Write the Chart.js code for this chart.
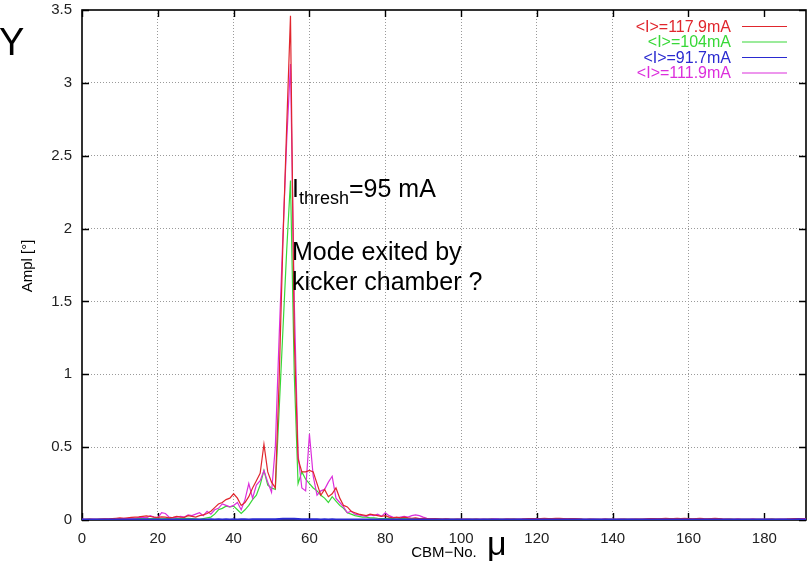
<!DOCTYPE html>
<html>
<head>
<meta charset="utf-8">
<script src="https://cdn.jsdelivr.net/npm/chart.js@4.4.1/dist/chart.umd.min.js"></script>
<style>
  html, body { margin: 0; padding: 0; background: #fff; }
  #wrap { width: 807px; height: 571px; }
</style>
</head>
<body>
<div id="wrap"><canvas id="myChart" width="807" height="571"></canvas></div>
<script>
// bunch number of the first value in each series
const firstBunch = 0;

const seriesLabels = ["<I>=117.9mA", "<I>=104mA", "<I>=91.7mA", "<I>=111.9mA"];
const seriesColors = ["#e0262d", "#38d838", "#2a2ad0", "#dc2edc"];
const seriesWidths = [1.2, 1.2, 2, 1.2];

const xTicks = [0, 20, 40, 60, 80, 100, 120, 140, 160, 180];
const yTicks = [0, 0.5, 1, 1.5, 2, 2.5, 3, 3.5];

const ampl118 = [
  0.005, 0.004, 0.006, 0.005, 0.004, 0.006, 0.008, 0.007, 0.010, 0.012,
  0.014, 0.012, 0.015, 0.018, 0.020, 0.022, 0.025, 0.028, 0.024, 0.020,
  0.018, 0.022, 0.020, 0.015, 0.018, 0.025, 0.020, 0.018, 0.030, 0.025,
  0.020, 0.030, 0.035, 0.045, 0.060, 0.085, 0.110, 0.120, 0.140, 0.150,
  0.180, 0.150, 0.100, 0.120, 0.160, 0.220, 0.270, 0.320, 0.520, 0.330,
  0.260, 0.220, 0.950, 1.900, 2.700, 3.460, 1.250, 0.420, 0.330, 0.330,
  0.340, 0.330, 0.250, 0.170, 0.210, 0.160, 0.180, 0.220, 0.150, 0.100,
  0.090, 0.060, 0.050, 0.040, 0.035, 0.030, 0.040, 0.035, 0.030, 0.025,
  0.030, 0.020, 0.015, 0.020, 0.015, 0.020, 0.015, 0.012, 0.015, 0.010,
  0.012, 0.010, 0.008, 0.010, 0.008, 0.006, 0.008, 0.006, 0.005, 0.006,
  0.005, 0.006, 0.004, 0.005, 0.006, 0.005, 0.004, 0.005, 0.006, 0.005,
  0.004, 0.005, 0.006, 0.007, 0.006, 0.005, 0.006, 0.008, 0.010, 0.009,
  0.008, 0.010, 0.012, 0.010, 0.009, 0.011, 0.012, 0.010, 0.008, 0.009,
  0.010, 0.008, 0.006, 0.005, 0.006, 0.005, 0.004, 0.005, 0.006, 0.005,
  0.004, 0.005, 0.004, 0.006, 0.005, 0.004, 0.006, 0.007, 0.006, 0.008,
  0.009, 0.010, 0.008, 0.010, 0.012, 0.010, 0.009, 0.011, 0.010, 0.012,
  0.010, 0.008, 0.010, 0.011, 0.009, 0.008, 0.010, 0.012, 0.010, 0.008,
  0.007, 0.006, 0.005, 0.006, 0.005, 0.004, 0.005, 0.006, 0.005, 0.004,
  0.005, 0.004, 0.006, 0.005, 0.004, 0.005, 0.006, 0.008, 0.010, 0.009,
  0.008, 0.007,
];

const ampl104 = [
  0.003, 0.003, 0.004, 0.003, 0.004, 0.005, 0.004, 0.005, 0.006, 0.005,
  0.006, 0.007, 0.006, 0.008, 0.010, 0.009, 0.010, 0.012, 0.010, 0.009,
  0.010, 0.008, 0.010, 0.009, 0.008, 0.010, 0.012, 0.010, 0.012, 0.010,
  0.008, 0.005, 0.010, 0.015, 0.020, 0.040, 0.070, 0.080, 0.095, 0.090,
  0.095, 0.070, 0.045, 0.070, 0.100, 0.140, 0.170, 0.240, 0.340, 0.240,
  0.220, 0.210, 0.750, 1.300, 1.850, 2.330, 1.000, 0.250, 0.330, 0.280,
  0.250, 0.220, 0.200, 0.170, 0.150, 0.120, 0.160, 0.130, 0.100, 0.080,
  0.050, 0.040, 0.030, 0.025, 0.020, 0.020, 0.015, 0.015, 0.012, 0.010,
  0.010, 0.012, 0.010, 0.008, 0.010, 0.009, 0.008, 0.007, 0.008, 0.006,
  0.006, 0.005, 0.006, 0.005, 0.004, 0.005, 0.004, 0.005, 0.004, 0.004,
  0.004, 0.003, 0.004, 0.005, 0.004, 0.003, 0.004, 0.005, 0.004, 0.003,
  0.004, 0.005, 0.004, 0.005, 0.006, 0.005, 0.004, 0.005, 0.006, 0.005,
  0.006, 0.007, 0.006, 0.005, 0.006, 0.007, 0.006, 0.005, 0.004, 0.005,
  0.004, 0.005, 0.004, 0.003, 0.004, 0.005, 0.004, 0.003, 0.004, 0.005,
  0.004, 0.003, 0.004, 0.005, 0.004, 0.005, 0.004, 0.003, 0.004, 0.005,
  0.006, 0.005, 0.006, 0.007, 0.006, 0.005, 0.006, 0.007, 0.006, 0.005,
  0.006, 0.005, 0.004, 0.005, 0.006, 0.005, 0.004, 0.005, 0.004, 0.003,
  0.004, 0.005, 0.004, 0.003, 0.004, 0.005, 0.004, 0.003, 0.004, 0.005,
  0.004, 0.005, 0.006, 0.005, 0.004, 0.005, 0.006, 0.005, 0.006, 0.007,
  0.006, 0.005,
];

const ampl92 = [
  0.003, 0.003, 0.004, 0.003, 0.003, 0.004, 0.003, 0.003, 0.004, 0.003,
  0.003, 0.004, 0.003, 0.003, 0.004, 0.004, 0.003, 0.003, 0.004, 0.003,
  0.003, 0.004, 0.003, 0.003, 0.004, 0.003, 0.003, 0.004, 0.004, 0.003,
  0.004, 0.003, 0.004, 0.004, 0.005, 0.004, 0.005, 0.004, 0.005, 0.004,
  0.005, 0.004, 0.005, 0.005, 0.004, 0.005, 0.005, 0.006, 0.005, 0.006,
  0.005, 0.006, 0.007, 0.008, 0.008, 0.009, 0.008, 0.007, 0.006, 0.005,
  0.006, 0.005, 0.005, 0.004, 0.005, 0.004, 0.005, 0.004, 0.004, 0.003,
  0.004, 0.003, 0.004, 0.003, 0.003, 0.004, 0.003, 0.003, 0.004, 0.003,
  0.003, 0.004, 0.003, 0.003, 0.004, 0.003, 0.003, 0.004, 0.003, 0.003,
  0.004, 0.003, 0.003, 0.004, 0.003, 0.003, 0.004, 0.003, 0.003, 0.004,
  0.003, 0.003, 0.004, 0.003, 0.003, 0.004, 0.003, 0.003, 0.004, 0.003,
  0.003, 0.004, 0.003, 0.003, 0.004, 0.003, 0.003, 0.004, 0.003, 0.003,
  0.004, 0.003, 0.003, 0.004, 0.003, 0.003, 0.004, 0.003, 0.003, 0.004,
  0.003, 0.003, 0.004, 0.003, 0.003, 0.004, 0.003, 0.003, 0.004, 0.003,
  0.003, 0.004, 0.003, 0.003, 0.004, 0.003, 0.003, 0.004, 0.003, 0.003,
  0.004, 0.003, 0.003, 0.004, 0.003, 0.003, 0.004, 0.003, 0.003, 0.004,
  0.003, 0.003, 0.004, 0.003, 0.003, 0.004, 0.003, 0.003, 0.004, 0.003,
  0.003, 0.004, 0.003, 0.003, 0.004, 0.003, 0.003, 0.004, 0.003, 0.003,
  0.004, 0.003, 0.003, 0.004, 0.003, 0.003, 0.004, 0.003, 0.004, 0.005,
  0.004, 0.004,
];

const ampl112 = [
  0.004, 0.005, 0.004, 0.006, 0.005, 0.007, 0.006, 0.008, 0.010, 0.008,
  0.010, 0.012, 0.010, 0.015, 0.012, 0.018, 0.020, 0.015, 0.030, 0.020,
  0.015, 0.050, 0.045, 0.020, 0.015, 0.020, 0.025, 0.020, 0.035, 0.030,
  0.040, 0.050, 0.030, 0.060, 0.040, 0.070, 0.080, 0.110, 0.100, 0.090,
  0.100, 0.120, 0.070, 0.140, 0.250, 0.150, 0.240, 0.270, 0.340, 0.260,
  0.190, 0.500, 1.250, 1.950, 2.600, 3.130, 1.500, 0.450, 0.220, 0.200,
  0.590, 0.300, 0.170, 0.200, 0.210, 0.260, 0.300, 0.150, 0.120, 0.090,
  0.050, 0.060, 0.040, 0.035, 0.030, 0.025, 0.035, 0.030, 0.040, 0.025,
  0.050, 0.030, 0.020, 0.015, 0.020, 0.025, 0.020, 0.030, 0.035, 0.030,
  0.020, 0.012, 0.010, 0.008, 0.006, 0.005, 0.006, 0.005, 0.004, 0.005,
  0.005, 0.004, 0.006, 0.005, 0.004, 0.005, 0.006, 0.005, 0.006, 0.008,
  0.006, 0.005, 0.006, 0.005, 0.004, 0.006, 0.007, 0.006, 0.008, 0.010,
  0.009, 0.008, 0.010, 0.009, 0.008, 0.007, 0.009, 0.010, 0.008, 0.006,
  0.005, 0.006, 0.005, 0.004, 0.005, 0.006, 0.005, 0.004, 0.006, 0.005,
  0.004, 0.005, 0.006, 0.005, 0.004, 0.006, 0.005, 0.004, 0.005, 0.006,
  0.007, 0.006, 0.008, 0.007, 0.006, 0.008, 0.007, 0.006, 0.005, 0.006,
  0.007, 0.006, 0.005, 0.006, 0.007, 0.006, 0.005, 0.006, 0.005, 0.004,
  0.005, 0.004, 0.005, 0.006, 0.005, 0.004, 0.005, 0.006, 0.005, 0.004,
  0.005, 0.006, 0.005, 0.004, 0.006, 0.007, 0.006, 0.005, 0.007, 0.008,
  0.010, 0.009,
];

const allSeries = [ampl118, ampl104, ampl92, ampl112];
// blue drawn on top, like the reference
const drawOrder = [1, 3, 0, 2];

const toPoints = (vals) => vals.map((v, i) => ({ x: firstBunch + i, y: v }));

const font = "'Liberation Sans', Arial, sans-serif";

// frame and inward ticks go under the curves
const frameTicks = {
  id: "frameTicks",
  beforeDatasetsDraw(chart) {
    const { ctx, chartArea: a, scales } = chart;
    ctx.save();
    ctx.strokeStyle = "#000";
    ctx.lineWidth = 1.4;
    xTicks.forEach((v) => {
      const px = Math.round(scales.x.getPixelForValue(v)) + 0.5;
      ctx.beginPath();
      ctx.moveTo(px, a.bottom);
      ctx.lineTo(px, a.bottom - 7);
      ctx.moveTo(px, a.top);
      ctx.lineTo(px, a.top + 7);
      ctx.stroke();
    });
    yTicks.forEach((v) => {
      const py = Math.round(scales.y.getPixelForValue(v)) + 0.5;
      ctx.beginPath();
      ctx.moveTo(a.left, py);
      ctx.lineTo(a.left + 7, py);
      ctx.moveTo(a.right, py);
      ctx.lineTo(a.right - 7, py);
      ctx.stroke();
    });
    ctx.lineWidth = 1.6;
    ctx.strokeRect(a.left, a.top, a.right - a.left, a.bottom - a.top);
    ctx.restore();
  },
};

const extraText = {
  id: "extraText",
  afterDraw(chart) {
    const { ctx, chartArea: a } = chart;
    ctx.save();
    ctx.fillStyle = "#000";
    ctx.textBaseline = "alphabetic";

    // legend box hides the grid behind it
    ctx.fillStyle = "#fff";
    ctx.fillRect(a.right - 182, a.top + 8, 176, 62);
    ctx.font = `16px ${font}`;
    ctx.textAlign = "right";
    seriesLabels.forEach((label, i) => {
      const yy = a.top + 16 + i * 15.5;
      ctx.fillStyle = seriesColors[i];
      ctx.fillText(label, a.right - 75, yy + 5.5);
      ctx.strokeStyle = seriesColors[i];
      ctx.lineWidth = 1.2;
      ctx.beginPath();
      ctx.moveTo(a.right - 64, yy + 0.5);
      ctx.lineTo(a.right - 19, yy + 0.5);
      ctx.stroke();
    });

    ctx.fillStyle = "#000";
    ctx.textAlign = "left";
    ctx.font = `38px ${font}`;
    ctx.fillText("Y", -1, 55);

    // axis titles
    ctx.font = `15px ${font}`;
    ctx.textAlign = "center";
    ctx.fillText("CBM\u2212No.", 444, 557);
    ctx.save();
    ctx.translate(32, 266);
    ctx.rotate(-Math.PI / 2);
    ctx.fillText("Ampl [\u00b0]", 0, 0);
    ctx.restore();
    ctx.textAlign = "left";
    ctx.font = `34px ${font}`;
    ctx.fillText("\u03bc", 487, 555);

    // annotation
    ctx.font = `25px ${font}`;
    ctx.fillText("I", 292, 197);
    let w = ctx.measureText("I").width;
    ctx.font = `18px ${font}`;
    ctx.fillText("thresh", 292 + w, 204);
    w += ctx.measureText("thresh").width;
    ctx.font = `25px ${font}`;
    ctx.fillText("=95 mA", 292 + w, 197);
    ctx.fillText("Mode exited by", 292, 260);
    ctx.fillText("kicker chamber ?", 292, 290);
    ctx.restore();
  },
};

const datasets = allSeries.map((vals, i) => ({
  label: seriesLabels[i],
  data: toPoints(vals),
  borderColor: seriesColors[i],
  borderWidth: seriesWidths[i],
  pointRadius: 0,
  tension: 0,
  fill: false,
  order: drawOrder[i],
}));

const gridColor = (ctx) =>
  ctx.index === 0 || ctx.index === ctx.chart.scales[ctx.scale.id].ticks.length - 1
    ? "rgba(0,0,0,0)"
    : "#9a9a9a";

const ctx = document.getElementById("myChart").getContext("2d");
const myChart = new Chart(ctx, {
  type: "line",
  data: { datasets },
  plugins: [frameTicks, extraText],
  options: {
    responsive: false,
    animation: false,
    devicePixelRatio: 1,
    layout: { padding: { top: 10, right: 1, left: 0, bottom: 0 } },
    plugins: { legend: { display: false }, tooltip: { enabled: false } },
    scales: {
      x: {
        type: "linear",
        min: 0,
        max: 191,
        afterFit: (scale) => {
          scale.height = 51;
          scale.paddingLeft = 0;
          scale.paddingRight = 0;
        },
        afterBuildTicks: (scale) => {
          scale.ticks = xTicks.map((v) => ({ value: v }));
        },
        ticks: {
          color: "#222",
          padding: 10,
          font: { family: font, size: 15 },
          callback: (v) => String(v),
        },
        grid: { color: gridColor, drawTicks: false, lineWidth: 1 },
        border: { display: false, dash: [1, 2] },
      },
      y: {
        min: 0,
        max: 3.5,
        afterFit: (scale) => {
          scale.width = 82;
          scale.paddingTop = 0;
          scale.paddingBottom = 0;
        },
        afterBuildTicks: (scale) => {
          scale.ticks = yTicks.map((v) => ({ value: v }));
        },
        ticks: {
          color: "#222",
          padding: 10,
          font: { family: font, size: 15 },
          callback: (v) => String(v),
        },
        grid: { color: gridColor, drawTicks: false, lineWidth: 1 },
        border: { display: false, dash: [1, 2] },
      },
    },
  },
});
</script>
</body>
</html>
